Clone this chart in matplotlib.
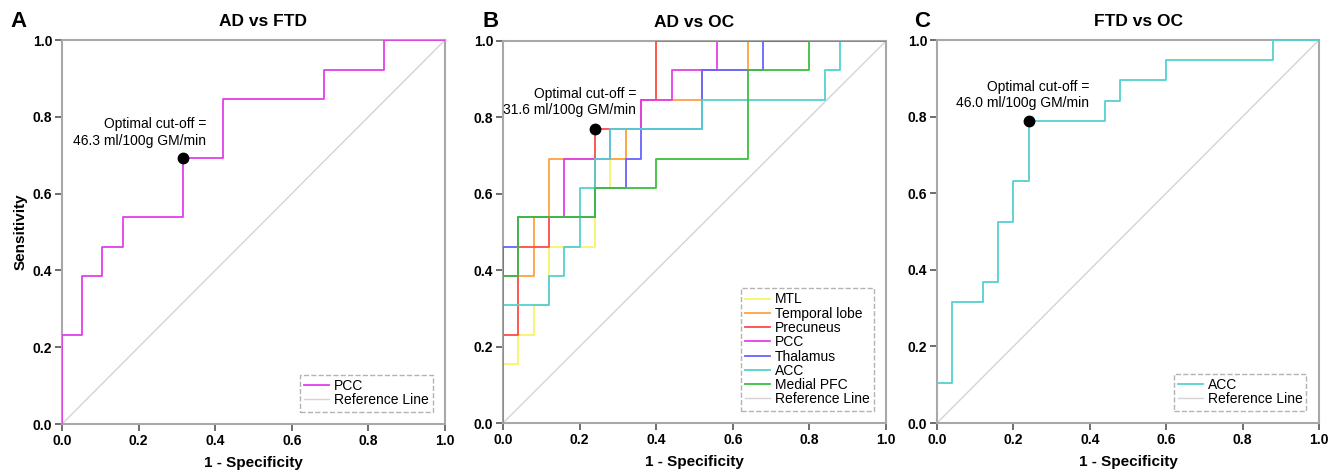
import matplotlib
matplotlib.use("Agg")
import matplotlib.pyplot as plt

plt.rcParams["font.family"] = ["Liberation Sans", "DejaVu Sans"]

# ROC corner points: x = 1 - specificity, y = sensitivity (drawn with steps-post)
pcc_ad_ftd_x = [0.0, 0.0, 0.053, 0.105, 0.158, 0.316, 0.421, 0.684, 0.842, 1.0]
pcc_ad_ftd_y = [0.0, 0.231, 0.385, 0.462, 0.538, 0.692, 0.846, 0.923, 1.0, 1.0]

mtl_x = [0.0, 0.0, 0.04, 0.08, 0.12, 0.24, 0.28, 0.32, 0.36, 0.40, 1.0]
mtl_y = [0.0, 0.154, 0.231, 0.308, 0.462, 0.615, 0.692, 0.769, 0.846, 1.0, 1.0]
temporal_x = [0.0, 0.0, 0.08, 0.12, 0.32, 0.36, 0.52, 0.64, 1.0]
temporal_y = [0.0, 0.385, 0.538, 0.692, 0.769, 0.846, 0.923, 1.0, 1.0]
precuneus_x = [0.0, 0.0, 0.04, 0.12, 0.24, 0.36, 0.40, 1.0]
precuneus_y = [0.0, 0.231, 0.462, 0.538, 0.769, 0.846, 1.0, 1.0]
pcc_x = [0.0, 0.0, 0.04, 0.16, 0.28, 0.36, 0.44, 0.56, 1.0]
pcc_y = [0.0, 0.385, 0.538, 0.692, 0.769, 0.846, 0.923, 1.0, 1.0]
thalamus_x = [0.0, 0.0, 0.04, 0.24, 0.32, 0.36, 0.52, 0.68, 1.0]
thalamus_y = [0.0, 0.462, 0.538, 0.615, 0.692, 0.769, 0.923, 1.0, 1.0]
acc_x = [0.0, 0.0, 0.12, 0.16, 0.20, 0.24, 0.28, 0.52, 0.84, 0.88, 1.0]
acc_y = [0.0, 0.308, 0.385, 0.462, 0.615, 0.692, 0.769, 0.846, 0.923, 1.0, 1.0]
mpfc_x = [0.0, 0.0, 0.04, 0.24, 0.40, 0.64, 0.80, 1.0]
mpfc_y = [0.0, 0.385, 0.538, 0.615, 0.692, 0.923, 1.0, 1.0]

acc_ftd_oc_x = [0.0, 0.0, 0.04, 0.12, 0.16, 0.20, 0.24, 0.44, 0.48, 0.60, 0.88, 1.0]
acc_ftd_oc_y = [0.0, 0.105, 0.316, 0.368, 0.526, 0.632, 0.789, 0.842, 0.895, 0.947, 1.0, 1.0]

cutoffs = [(0.316, 0.692), (0.24, 0.769), (0.24, 0.789)]
cutoff_labels = ["46.3", "31.6", "46.0"]

ticks = [0.0, 0.2, 0.4, 0.6, 0.8, 1.0]
LW = 1.3


def style_axes(ax):
    ax.set_xlim(0, 1)
    ax.set_ylim(0, 1)
    ax.set_xticks(ticks)
    ax.set_yticks(ticks)
    ax.set_xticklabels([f"{t:.1f}" for t in ticks], fontweight="bold", fontsize=10)
    ax.set_yticklabels([f"{t:.1f}" for t in ticks], fontweight="bold", fontsize=10)
    for s in ax.spines.values():
        s.set_color("#a8a8a8")
        s.set_linewidth(1.5)
    ax.tick_params(direction="out", length=5, width=1.2, color="#555555", pad=2)
    ax.set_xlabel("1 - Specificity", fontweight="bold", fontsize=11, labelpad=6)


def finish_axes(ax):
    ref, = ax.plot([0, 1], [0, 1], color="#d4d4d4", lw=1.0, zorder=1)
    h, l = ax.get_legend_handles_labels()
    leg = ax.legend(h + [ref], l + ["Reference Line"], loc="lower right", fontsize=10,
                    frameon=True, fancybox=False, handlelength=1.8, handletextpad=0.3,
                    labelspacing=0.02, borderpad=0.3, borderaxespad=0.9)
    fr = leg.get_frame()
    fr.set_linestyle("--")
    fr.set_edgecolor("#a0a0a0")
    fr.set_linewidth(1.0)


def add_cutoff(ax, pt, value, tx, ty):
    ax.plot(pt[0], pt[1], "o", color="black", markersize=7.5, zorder=10)
    ax.text(tx, ty, f"Optimal cut-off =\n{value} ml/100g GM/min", ha="right", va="bottom",
            multialignment="right", fontsize=10, linespacing=1.2)


fig = plt.figure(figsize=(13.29, 4.73), dpi=100)
axA = fig.add_axes([62 / 1329, 49 / 473, 383 / 1329, 384 / 473])
axB = fig.add_axes([503 / 1329, 50 / 473, 383 / 1329, 382 / 473])
axC = fig.add_axes([937 / 1329, 50 / 473, 382 / 1329, 383 / 473])

# A: AD vs FTD
style_axes(axA)
axA.plot(pcc_ad_ftd_x, pcc_ad_ftd_y, drawstyle="steps-post", color="#e040e8", lw=LW, label="PCC", zorder=3)
add_cutoff(axA, cutoffs[0], cutoff_labels[0], 0.376, 0.72)
axA.set_ylabel("Sensitivity", fontweight="bold", fontsize=11, labelpad=4)
axA.set_title("AD vs FTD", fontweight="bold", fontsize=12.5, x=0.525, pad=10)
finish_axes(axA)

# B: AD vs OC
style_axes(axB)
series_b = [
    ("MTL", mtl_x, mtl_y, "#f5f56a"),
    ("Temporal lobe", temporal_x, temporal_y, "#ffa040"),
    ("Precuneus", precuneus_x, precuneus_y, "#ff4a4a"),
    ("PCC", pcc_x, pcc_y, "#e040e8"),
    ("Thalamus", thalamus_x, thalamus_y, "#6464ff"),
    ("ACC", acc_x, acc_y, "#55d0d0"),
    ("Medial PFC", mpfc_x, mpfc_y, "#3cbf3c"),
]
for i, (name, xs, ys, c) in enumerate(series_b):
    axB.plot(xs, ys, drawstyle="steps-post", color=c, lw=LW, label=name, zorder=3 + i)
add_cutoff(axB, cutoffs[1], cutoff_labels[1], 0.347, 0.80)
axB.set_title("AD vs OC", fontweight="bold", fontsize=12.5, pad=10)
finish_axes(axB)

# C: FTD vs OC
style_axes(axC)
axC.plot(acc_ftd_oc_x, acc_ftd_oc_y, drawstyle="steps-post", color="#55d0d0", lw=LW, label="ACC", zorder=3)
add_cutoff(axC, cutoffs[2], cutoff_labels[2], 0.399, 0.816)
axC.set_title("FTD vs OC", fontweight="bold", fontsize=12.5, x=0.527, pad=10)
finish_axes(axC)

fig.text(10 / 1329, 1 - 21 / 473, "A", fontsize=16, fontweight="bold", va="center")
fig.text(482 / 1329, 1 - 21 / 473, "B", fontsize=16, fontweight="bold", va="center")
fig.text(914 / 1329, 1 - 21 / 473, "C", fontsize=16, fontweight="bold", va="center")

fig.savefig("out.png", dpi=100)
